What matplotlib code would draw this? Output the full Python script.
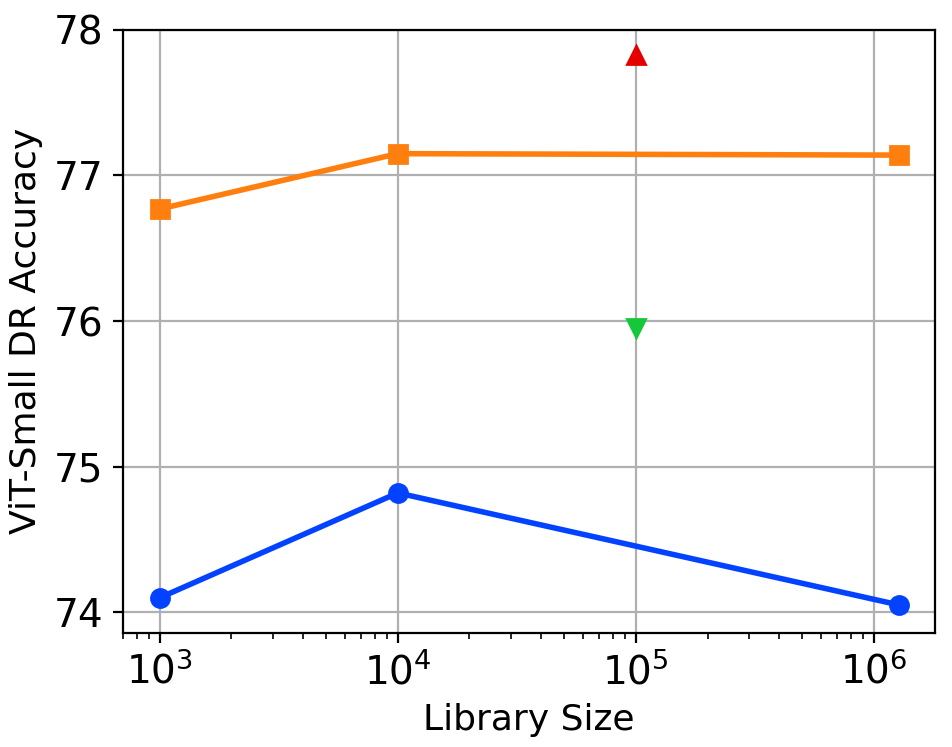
import matplotlib
matplotlib.use("Agg")
import matplotlib.pyplot as plt

lib_sizes = [1e3, 1e4, 1.28e6]
blue_vals = [74.10, 74.82, 74.05]
orange_vals = [76.77, 77.15, 77.14]
red_x = [1e5]
red_vals = [77.83]
green_x = [1e5]
green_vals = [75.95]

fig = plt.figure(figsize=(4.76, 3.735), dpi=200)
ax = fig.add_axes([0.129, 0.153, 0.853, 0.807])
ax.plot(lib_sizes, blue_vals, color='#0343ff', marker='o', lw=2, ms=6.5)
ax.plot(lib_sizes, orange_vals, color='#ff7f0e', marker='s', lw=2, ms=6.5)
ax.plot(red_x, red_vals, color='#e50000', marker='^', ls='none', ms=6.5)
ax.plot(green_x, green_vals, color='#15c83a', marker='v', ls='none', ms=6.5)
ax.set_xscale('log')
ax.set_xlim(10**2.845, 10**6.256)
ax.set_ylim(73.86, 78.0)
ax.set_yticks([74, 75, 76, 77, 78])
ax.grid(True, which='major')
ax.set_xlabel('Library Size', fontsize=13)
ax.set_ylabel('ViT-Small DR Accuracy', fontsize=13)
ax.tick_params(labelsize=14)
fig.savefig('out.png', dpi=200)
